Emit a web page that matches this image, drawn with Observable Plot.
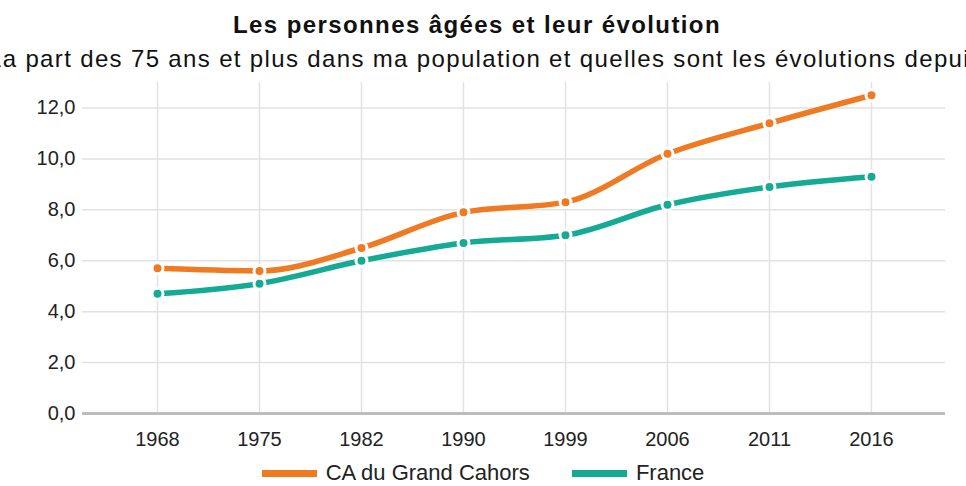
<!DOCTYPE html>
<html>
<head>
<meta charset="utf-8">
<script src="https://cdn.jsdelivr.net/npm/d3@7"></script>
<script src="https://cdn.jsdelivr.net/npm/@observablehq/plot@0.6"></script>
<style>
  html, body { margin: 0; padding: 0; background: #fff; overflow: hidden; }
  body { position: relative; width: 966px; height: 486px; font-family: "Liberation Sans", Arial, Helvetica, sans-serif; color: #111; }
  .title { position: absolute; z-index: 2; left: 0; width: 954px; top: 10px; display: flex; justify-content: center; white-space: nowrap; font-weight: bold; font-size: 24px; letter-spacing: 1.4px; line-height: 30px; }
  .subtitle { position: absolute; z-index: 2; left: -12px; top: 44px; white-space: nowrap; font-size: 24px; letter-spacing: 1.35px; line-height: 30px; color: #111; }
  #chart { position: absolute; z-index: 1; left: 0; top: 70px; }
  .legend { position: absolute; left: 0; width: 966px; top: 463px; height: 20px; line-height: 20px; display: flex; justify-content: center; align-items: center; gap: 42px; font-size: 22px; color: #222; }
  .legend .item { display: flex; align-items: center; gap: 9px; }
  .legend .sw { width: 55px; height: 7px; }
  #chart svg { display: block; }
</style>
</head>
<body>
<div class="title" id="title"></div>
<div class="subtitle" id="subtitle"></div>
<div id="chart"></div>
<div class="legend" id="legend"></div>
<script>
const titleText = "Les personnes âgées et leur évolution";
const subtitleText = "La part des 75 ans et plus dans ma population et quelles sont les évolutions depuis";
const years = ["1968", "1975", "1982", "1990", "1999", "2006", "2011", "2016"];
const seriesNames = ["CA du Grand Cahors", "France"];
const caValues = [5.7, 5.6, 6.5, 7.9, 8.3, 10.2, 11.4, 12.5];
const frValues = [4.7, 5.1, 6.0, 6.7, 7.0, 8.2, 8.9, 9.3];
const colors = ["#ef7a22", "#14aa94"];
const yTicks = [0, 2, 4, 6, 8, 10, 12];

document.getElementById("title").textContent = titleText;
document.getElementById("subtitle").textContent = subtitleText;

const data = [];
years.forEach((y, i) => {
  data.push({year: y, value: caValues[i], series: seriesNames[0]});
  data.push({year: y, value: frValues[i], series: seriesNames[1]});
});

const fmt = d => d3.format(".1f")(d).replace(".", ",");

const chart = Plot.plot({
  width: 966,
  height: 383,
  marginTop: 12,
  marginLeft: 82,
  marginRight: 21,
  marginBottom: 40,
  style: {fontFamily: "'Liberation Sans', Arial, sans-serif", fontSize: "20px", color: "#222", background: "transparent"},
  x: {type: "point", domain: years, padding: 0.7, label: null},
  y: {domain: [0, 13], label: null},
  color: {domain: seriesNames, range: colors},
  marks: [
    Plot.gridY(yTicks, {stroke: "#e2e2e2", strokeOpacity: 1, strokeWidth: 1.5}),
    Plot.gridX(years, {stroke: "#e2e2e2", strokeOpacity: 1, strokeWidth: 1.5}),
    Plot.ruleY([0], {stroke: "#bdbdbd", strokeWidth: 3}),
    Plot.line(data, {x: "year", y: "value", z: "series", stroke: "series", strokeWidth: 5.5, curve: "monotone-x"}),
    Plot.dot(data, {x: "year", y: "value", fill: "series", r: 5.5, stroke: "white", strokeWidth: 3}),
    Plot.axisY(yTicks, {tickFormat: fmt, tickSize: 0, tickPadding: 7, label: null, fontSize: 20}),
    Plot.axisX({tickSize: 0, tickPadding: 18, label: null, fontSize: 20})
  ]
});
document.getElementById("chart").appendChild(chart);

const legend = document.getElementById("legend");
seriesNames.forEach((name, i) => {
  const item = document.createElement("div");
  item.className = "item";
  const sw = document.createElement("div");
  sw.className = "sw";
  sw.style.background = colors[i];
  const label = document.createElement("span");
  label.textContent = name;
  item.appendChild(sw);
  item.appendChild(label);
  legend.appendChild(item);
});
</script>
</body>
</html>
